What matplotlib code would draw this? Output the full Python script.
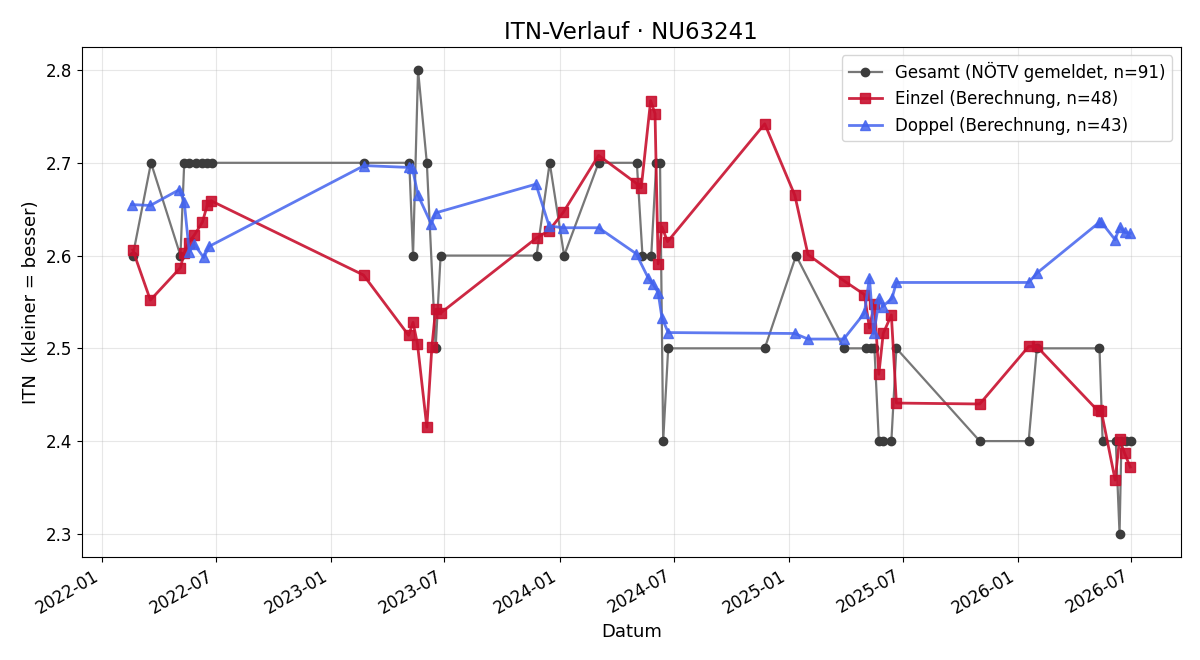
"""ITN-Verlauf for one player: reported total ITN vs. computed singles/doubles ITN."""

import matplotlib
matplotlib.use("Agg")
import matplotlib.pyplot as plt
import matplotlib.dates as mdates
import pandas as pd

TITLE = "ITN-Verlauf · NU63241"

gesamt_dates = [
    "2022-02-19", "2022-03-20", "2022-05-06", "2022-05-12", "2022-05-20", "2022-05-30",
    "2022-06-10", "2022-06-18", "2022-06-26", "2023-02-23", "2023-05-06", "2023-05-12",
    "2023-05-20", "2023-06-03", "2023-06-17", "2023-06-25", "2023-11-25", "2023-12-16",
    "2024-01-08", "2024-03-03", "2024-05-03", "2024-05-12", "2024-05-26", "2024-06-03",
    "2024-06-09", "2024-06-14", "2024-06-22", "2024-11-23", "2025-01-12", "2025-03-29",
    "2025-05-03", "2025-05-11", "2025-05-17", "2025-05-24", "2025-05-31", "2025-06-13",
    "2025-06-21", "2025-11-01", "2026-01-18", "2026-01-31", "2026-05-11", "2026-05-16",
    "2026-06-06", "2026-06-12", "2026-06-15", "2026-06-23", "2026-06-30",
]
gesamt_itn = [
    2.6, 2.7, 2.6, 2.7, 2.7, 2.7,
    2.7, 2.7, 2.7, 2.7, 2.7, 2.6,
    2.8, 2.7, 2.5, 2.6, 2.6, 2.7,
    2.6, 2.7, 2.7, 2.6, 2.6, 2.7,
    2.7, 2.4, 2.5, 2.5, 2.6, 2.5,
    2.5, 2.5, 2.5, 2.4, 2.4, 2.4,
    2.5, 2.4, 2.4, 2.5, 2.5, 2.4,
    2.4, 2.3, 2.4, 2.4, 2.4,
]

einzel_dates = [
    "2022-02-19", "2022-03-19", "2022-05-06", "2022-05-12", "2022-05-19", "2022-05-28",
    "2022-06-10", "2022-06-18", "2022-06-24", "2023-02-22", "2023-05-05", "2023-05-12",
    "2023-05-19", "2023-06-03", "2023-06-11", "2023-06-17", "2023-06-25", "2023-11-25",
    "2023-12-15", "2024-01-07", "2024-03-03", "2024-05-02", "2024-05-10", "2024-05-25",
    "2024-06-01", "2024-06-06", "2024-06-12", "2024-06-21", "2024-11-23", "2025-01-10",
    "2025-01-31", "2025-03-29", "2025-05-01", "2025-05-09", "2025-05-17", "2025-05-24",
    "2025-05-31", "2025-06-13", "2025-06-21", "2025-11-01", "2026-01-18", "2026-01-31",
    "2026-05-08", "2026-05-14", "2026-06-05", "2026-06-12", "2026-06-20", "2026-06-29",
]
einzel_itn = [
    2.606, 2.552, 2.587, 2.603, 2.614, 2.622,
    2.636, 2.655, 2.659, 2.579, 2.514, 2.528,
    2.505, 2.415, 2.501, 2.542, 2.538, 2.619,
    2.627, 2.647, 2.708, 2.678, 2.673, 2.767,
    2.753, 2.591, 2.631, 2.615, 2.742, 2.665,
    2.601, 2.573, 2.558, 2.522, 2.548, 2.472,
    2.516, 2.536, 2.441, 2.440, 2.502, 2.502,
    2.433, 2.432, 2.358, 2.402, 2.387, 2.372,
]

doppel_dates = [
    "2022-02-17", "2022-03-19", "2022-05-04", "2022-05-12", "2022-05-20", "2022-05-28",
    "2022-06-12", "2022-06-21", "2023-02-23", "2023-05-06", "2023-05-11", "2023-05-20",
    "2023-06-10", "2023-06-17", "2023-11-24", "2023-12-15", "2024-01-06", "2024-03-03",
    "2024-05-02", "2024-05-21", "2024-05-29", "2024-06-06", "2024-06-12", "2024-06-22",
    "2025-01-10", "2025-01-31", "2025-03-29", "2025-05-01", "2025-05-09", "2025-05-16",
    "2025-05-25", "2025-05-30", "2025-06-14", "2025-06-21", "2026-01-18", "2026-01-31",
    "2026-05-11", "2026-05-14", "2026-06-05", "2026-06-12", "2026-06-20", "2026-06-29",
]
doppel_itn = [
    2.655, 2.654, 2.671, 2.658, 2.604, 2.612,
    2.598, 2.610, 2.697, 2.695, 2.694, 2.665,
    2.634, 2.646, 2.677, 2.632, 2.630, 2.630,
    2.602, 2.576, 2.569, 2.560, 2.533, 2.517,
    2.516, 2.510, 2.510, 2.538, 2.576, 2.516,
    2.554, 2.545, 2.554, 2.571, 2.571, 2.581,
    2.636, 2.636, 2.617, 2.631, 2.625, 2.624,
]


def main() -> None:
    fig, ax = plt.subplots(figsize=(12, 6.6), dpi=100)

    ax.plot(pd.to_datetime(gesamt_dates), gesamt_itn, "-o", color="#777777",
            markerfacecolor="#3c3c3c", markeredgecolor="#3c3c3c", lw=1.6, ms=6,
            label="Gesamt (NÖTV gemeldet, n=91)")
    ax.plot(pd.to_datetime(einzel_dates), einzel_itn, "-s", color="#c8102e", alpha=0.9,
            lw=2, ms=7, label=f"Einzel (Berechnung, n={len(einzel_itn)})")
    ax.plot(pd.to_datetime(doppel_dates), doppel_itn, "-^", color="#4363ee", alpha=0.85,
            lw=2, ms=7, label="Doppel (Berechnung, n=43)")

    ax.set_title(TITLE, fontsize=16.5)
    ax.set_xlabel("Datum", fontsize=13)
    ax.set_ylabel("ITN  (kleiner = besser)", fontsize=13)
    ax.tick_params(labelsize=12)
    ax.grid(True, alpha=0.3)
    ax.xaxis.set_major_locator(mdates.MonthLocator(bymonth=[1, 7]))
    ax.xaxis.set_major_formatter(mdates.DateFormatter("%Y-%m"))
    ax.legend(loc="upper right", fontsize=12)
    fig.autofmt_xdate()
    fig.subplots_adjust(left=0.068, right=0.984, top=0.929, bottom=0.156)
    fig.savefig("out.png")


if __name__ == "__main__":
    main()
